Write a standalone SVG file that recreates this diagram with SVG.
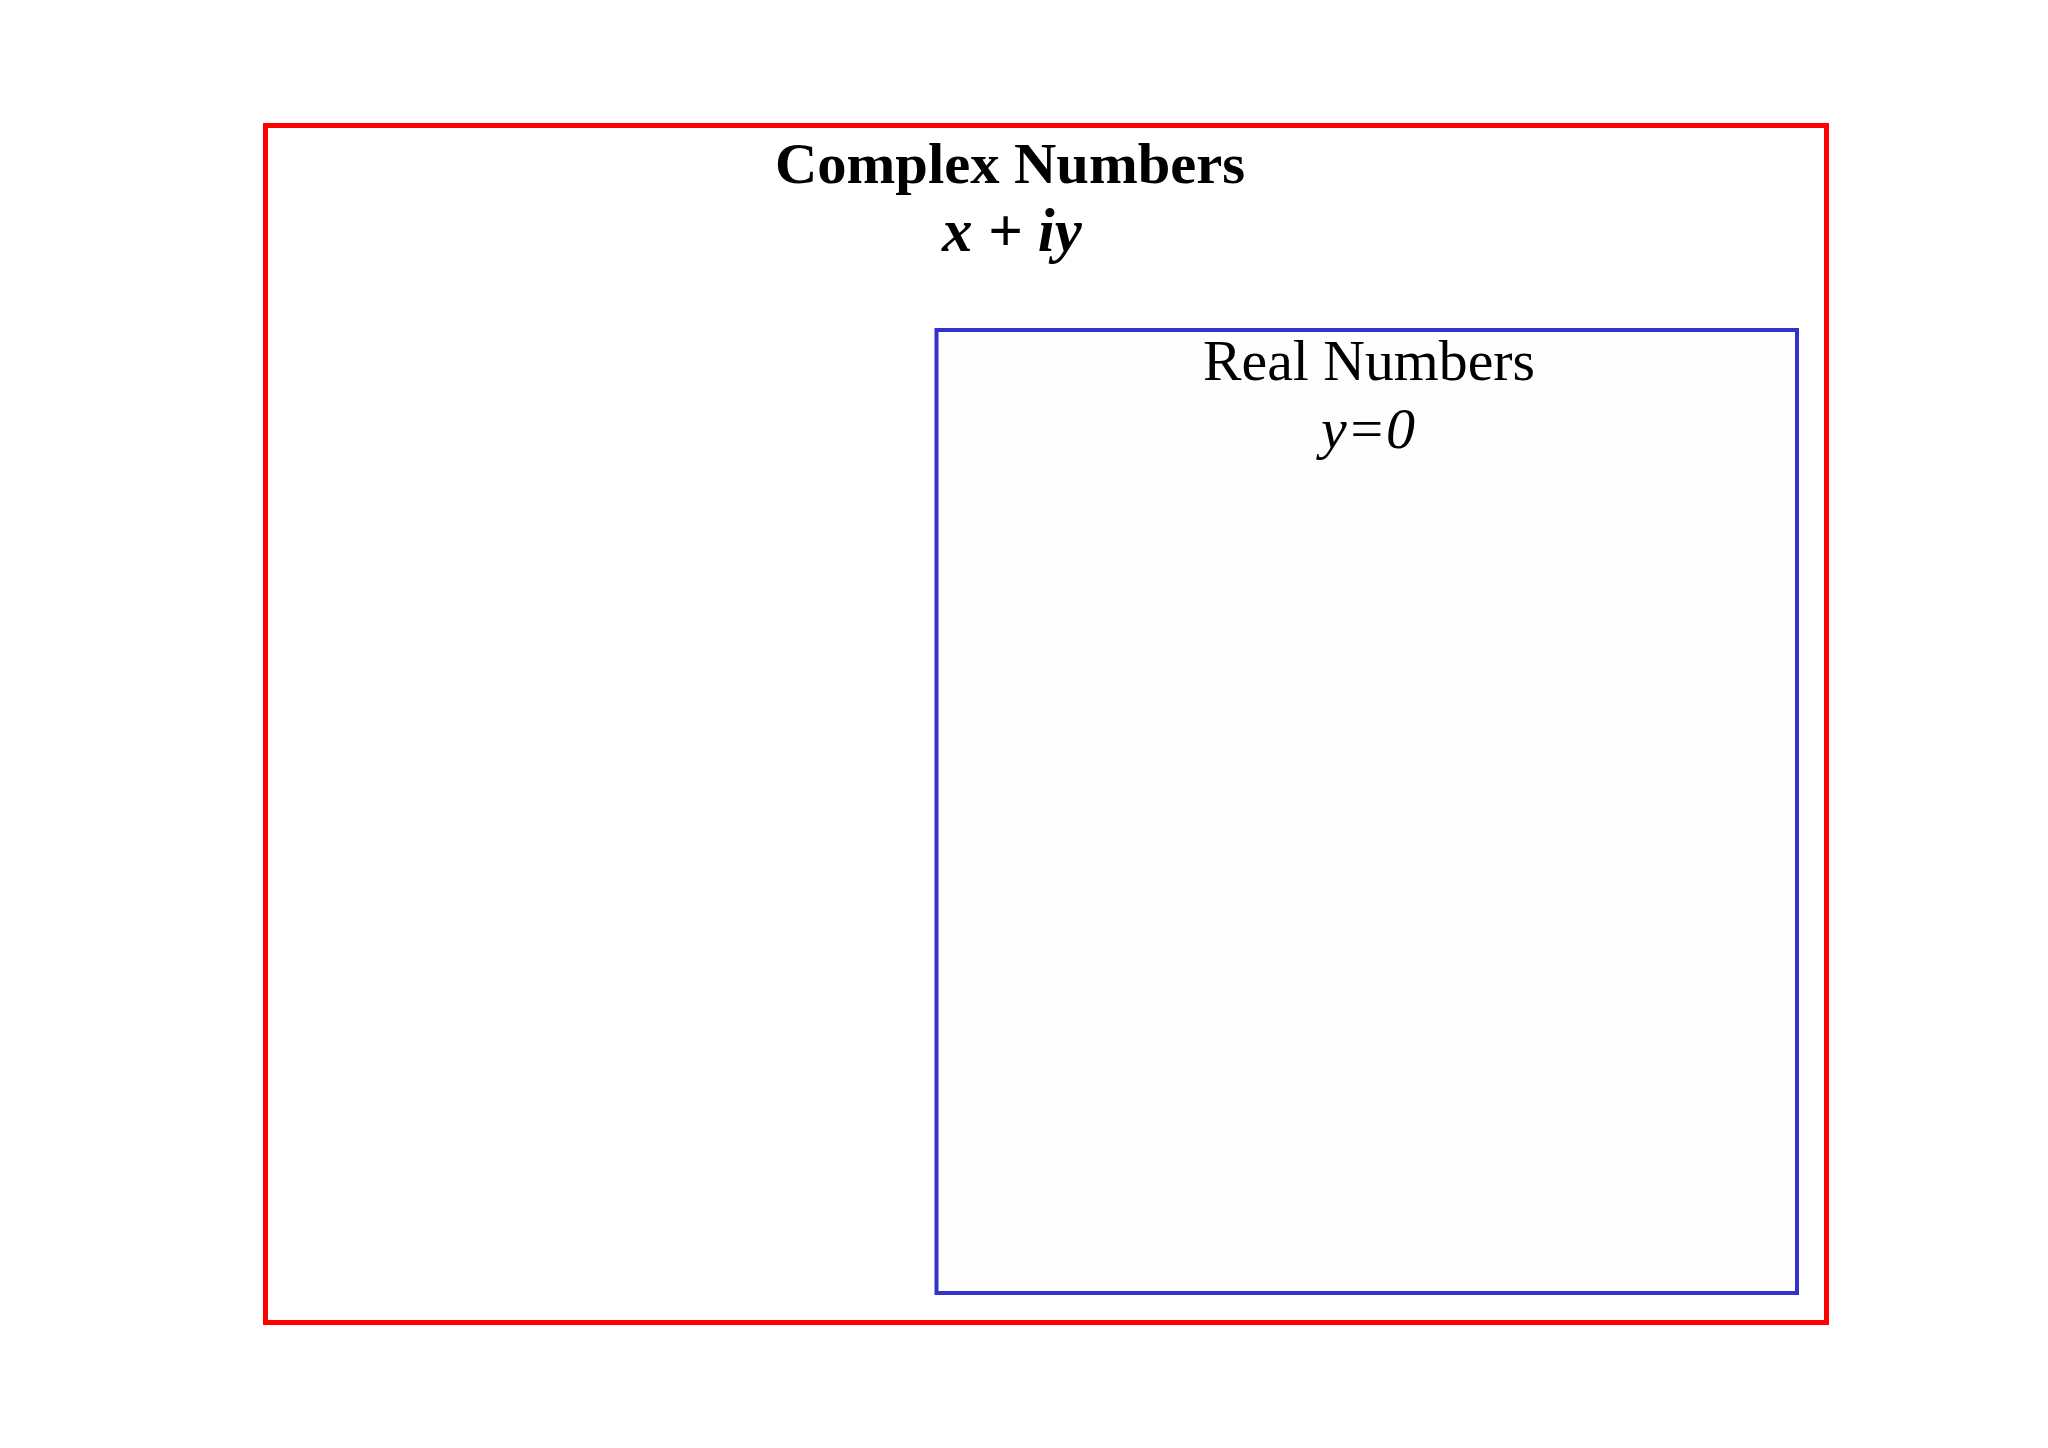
<svg xmlns="http://www.w3.org/2000/svg" width="2048" height="1448" viewBox="0 0 2048 1448">
<style>
.t{font-family:"Liberation Serif","Times New Roman",serif;font-size:58px;fill:#000;text-anchor:middle}
.b{font-weight:bold}
.i{font-style:italic}
</style>
<rect width="2048" height="1448" fill="#ffffff"/>
<g id="complex">
<rect x="265.5" y="125.5" width="1561" height="1197" fill="none" stroke="#ff0000" stroke-width="5"/>
<text class="t b" x="1010" y="183" textLength="470" lengthAdjust="spacingAndGlyphs">Complex Numbers</text>
<text class="t b i" x="1012" y="251" style="font-size:61px" xml:space="preserve">x + iy</text>
</g>
<g id="real">
<rect x="936.5" y="330" width="860.5" height="963" fill="#fefefe" stroke="#3333cc" stroke-width="4"/>
<text class="t" x="1369" y="380" textLength="332" lengthAdjust="spacingAndGlyphs">Real Numbers</text>
<text class="t i" x="1368" y="448">y=0</text>
</g>
<g id="connectors"/>
</svg>
